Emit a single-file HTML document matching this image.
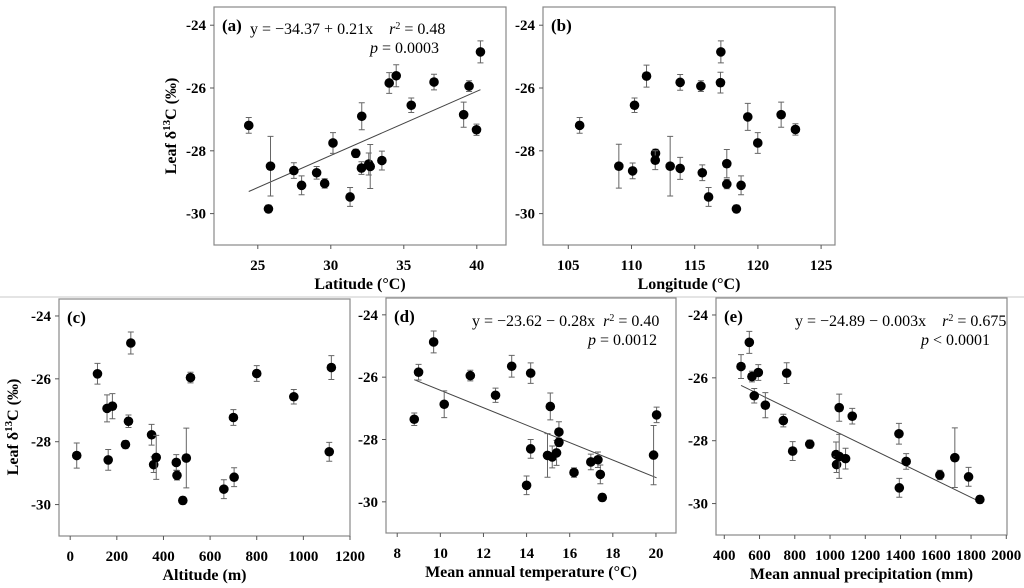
<!DOCTYPE html>
<html><head><meta charset="utf-8"><style>
html,body{margin:0;padding:0;background:#fff;}
svg{display:block;font-family:"Liberation Serif",serif;}
</style></head><body>
<svg id="fig" width="1024" height="588" viewBox="0 0 1024 588" xmlns="http://www.w3.org/2000/svg">
<line x1="0" y1="297" x2="1024" y2="297" stroke="#c8c8c8" stroke-width="1"/>
</svg>
<script>
// ---- data (panel a: latitude) ----
const latX=[24.38,25.73,25.87,27.47,28.0,29.03,29.58,30.15,31.32,31.71,32.12,32.1,32.6,32.7,33.5,34.0,34.48,35.51,37.07,39.1,39.47,39.98,40.25];
const latY=[-27.19,-29.85,-28.49,-28.63,-29.10,-28.70,-29.04,-27.75,-29.47,-28.08,-26.90,-28.55,-28.42,-28.50,-28.31,-25.84,-25.61,-26.55,-25.81,-26.85,-25.94,-27.33,-24.85];
const latE=[0.25,0.12,0.95,0.25,0.3,0.2,0.15,0.33,0.3,0.13,0.43,0.2,0.35,0.7,0.3,0.33,0.35,0.23,0.25,0.4,0.17,0.18,0.35];
// ---- panel b: longitude ----
const lonX=[105.9,109.0,110.09,110.24,111.19,111.9,111.88,113.06,113.85,113.85,115.49,115.6,116.1,117.07,117.04,117.54,117.54,118.3,118.67,119.2,119.99,121.84,122.97];
const lonY=[-27.19,-28.49,-28.64,-26.55,-25.62,-28.08,-28.3,-28.49,-25.82,-28.56,-25.94,-28.70,-29.47,-24.85,-25.83,-28.41,-29.06,-29.85,-29.10,-26.92,-27.75,-26.85,-27.32];
const lonE=[0.25,0.7,0.25,0.23,0.35,0.13,0.3,0.95,0.25,0.35,0.17,0.25,0.3,0.35,0.33,0.45,0.15,0.12,0.3,0.43,0.33,0.4,0.18];
// ---- panel c: altitude ----
const altX=[28,117,158,181,163,237,250,260,349,358,369,455,458,483,498,516,659,700,703,800,959,1111,1120];
const altY=[-28.44,-25.84,-26.94,-26.87,-28.58,-28.09,-27.35,-24.86,-27.78,-28.73,-28.5,-28.66,-29.07,-29.87,-28.52,-25.96,-29.51,-27.23,-29.13,-25.83,-26.57,-28.32,-25.64];
const altE=[0.4,0.33,0.43,0.4,0.33,0.13,0.2,0.35,0.33,0.25,0.7,0.25,0.15,0.12,0.95,0.17,0.3,0.25,0.3,0.25,0.23,0.3,0.38];
// ---- panel d: temperature ----
const matX=[8.79,8.99,9.69,10.18,11.39,12.56,13.31,14.19,14.19,14.0,14.97,15.19,15.1,15.39,15.5,15.5,16.2,16.98,17.31,17.42,17.51,19.89,20.03];
const matY=[-27.35,-25.84,-24.87,-26.87,-25.95,-26.58,-25.65,-25.87,-28.30,-29.47,-28.51,-28.56,-26.94,-28.43,-27.76,-28.09,-29.06,-28.72,-28.65,-29.12,-29.86,-28.50,-27.21];
const matE=[0.2,0.25,0.35,0.43,0.17,0.23,0.35,0.33,0.3,0.3,0.7,0.35,0.43,0.4,0.33,0.13,0.15,0.25,0.25,0.3,0.12,0.95,0.25];
// ---- panel e: precipitation ----
const mapX=[495,542,557,593,570,633,735,754,788,885,1034,1037,1052,1052,1088,1126,1391,1393,1432,1623,1708,1786,1850];
const mapY=[-25.64,-24.87,-25.96,-25.83,-26.57,-26.87,-27.36,-25.85,-28.33,-28.11,-28.44,-28.76,-26.95,-28.50,-28.57,-27.22,-27.78,-29.50,-28.66,-29.09,-28.54,-29.15,-29.87];
const mapE=[0.38,0.35,0.17,0.25,0.23,0.4,0.2,0.33,0.3,0.13,0.4,0.25,0.43,0.7,0.33,0.25,0.33,0.3,0.25,0.15,0.95,0.3,0.12];
// regression lines [intercept, slope]
const fitA=[-34.28,0.2044];
const fitD=[-23.62,-0.28];
const fitE=[-24.89,-0.00273];
const yTicks=[-24,-26,-28,-30];
const ticksA=[25,30,35,40];
const ticksB=[105,110,115,120,125];
const ticksC=[0,200,400,600,800,1000,1200];
const ticksD=[8,10,12,14,16,18,20];
const ticksE=[400,600,800,1000,1200,1400,1600,1800,2000];

const NS='http://www.w3.org/2000/svg';
const svg=document.getElementById('fig');
function mk(tag,attrs,parent,text){const e=document.createElementNS(NS,tag);for(const k in attrs)e.setAttribute(k,attrs[k]);if(text!==undefined)e.textContent=text;(parent||svg).appendChild(e);return e;}

function panel(o){
  const g=mk('g',{});
  
  
  const sx=v=>o.L+(v-o.x0)/(o.x1-o.x0)*(o.R-o.L);
  const sy=v=>o.T+(o.y1-v)/(o.y1-o.y0)*(o.B-o.T);
  const box=mk('rect',{x:o.L,y:o.T,width:o.R-o.L,height:o.B-o.T,fill:'none',stroke:'#888','stroke-width':1.2},g);
  
  
  yTicks.forEach(t=>{
    mk('line',{x1:o.L-4,x2:o.L,y1:sy(t),y2:sy(t),stroke:'#555'},g);
    const tl=mk('text',{x:o.L-8,y:sy(t)+5,'text-anchor':'end','font-size':15,'font-weight':'bold'},g,String(t));
    
    
  });
  o.xt.forEach(t=>{
    mk('line',{x1:sx(t),x2:sx(t),y1:o.B,y2:o.B+4,stroke:'#555'},g);
    const tl=mk('text',{x:sx(t),y:o.B+25,'text-anchor':'middle','font-size':15,'font-weight':'bold'},g,String(t));
    
    
  });
  const xt=mk('text',{x:(o.L+o.R)/2,y:o.B+44,'text-anchor':'middle','font-size':16,'font-weight':'bold'},g,o.xtitle);
  
  
  const pl=mk('text',{x:o.L+8,y:o.T+24,'font-size':17,'font-weight':'bold'},g,'('+o.id+')');
  
  
  if(o.fit){
    const xs=o.X, xa=Math.min(...xs), xb=Math.max(...xs);
    const ln=mk('line',{x1:sx(xa),y1:sy(o.fit[0]+o.fit[1]*xa),x2:sx(xb),y2:sy(o.fit[0]+o.fit[1]*xb),stroke:'#444','stroke-width':1},g);
    
    
  }
  o.X.forEach((x,i)=>{
    const cx=sx(x),cy=sy(o.Y[i]),e=o.E[i];
    const eb=mk('path',{d:`M${cx},${sy(o.Y[i]+e)}V${sy(o.Y[i]-e)}M${cx-3},${sy(o.Y[i]+e)}H${cx+3}M${cx-3},${sy(o.Y[i]-e)}H${cx+3}`,stroke:'#666',fill:'none','stroke-width':1},g);
    
    
    const c=mk('circle',{cx:cx,cy:cy,r:4.8,fill:'#000'},g);
    
    
  });
  return g;
}
function ytitle(x,y){
  const t=mk('text',{transform:`translate(${x},${y}) rotate(-90)`,'text-anchor':'middle','font-size':16,'font-weight':'bold'});
  
  
  mk('tspan',{},t,'Leaf δ');
  mk('tspan',{'baseline-shift':'super','font-size':11},t,'13');
  mk('tspan',{},t,'C (‰)');
}
function eq(x,y,parts,anchor){
  const t=mk('text',{x:x,y:y,'font-size':16,'text-anchor':anchor||'start','xml:space':'preserve'});
  
  
  parts.forEach(p=>{mk('tspan',p[1]||{},t,p[0]);});
}
const Y0=-31,Y1=-23.42;
panel({id:'a',L:214,R:506,T:7,B:245,x0:22,x1:42,y0:Y0,y1:Y1,X:latX,Y:latY,E:latE,xt:ticksA,xtitle:'Latitude (°C)',fit:fitA});
panel({id:'b',L:543,R:835,T:7,B:245,x0:103,x1:126.1,y0:Y0,y1:Y1,X:lonX,Y:lonY,E:lonE,xt:ticksB,xtitle:'Longitude (°C)'});
panel({id:'c',L:59,R:350,T:299,B:536,x0:-48,x1:1200,y0:Y0,y1:-23.46,X:altX,Y:altY,E:altE,xt:ticksC,xtitle:'Altitude (m)'});
panel({id:'d',L:386,R:676,T:298,B:533,x0:7.48,x1:20.93,y0:Y0,y1:-23.46,X:matX,Y:matY,E:matE,xt:ticksD,xtitle:'Mean annual temperature (°C)',fit:fitD});
panel({id:'e',L:716,R:1007,T:298,B:535,x0:353,x1:2004,y0:Y0,y1:-23.46,X:mapX,Y:mapY,E:mapE,xt:ticksE,xtitle:'Mean annual precipitation (mm)',fit:fitE});
ytitle(176,126);
ytitle(18,427);
eq(250,34,[['y = −34.37 + 0.21x\u2003'],['r',{'font-style':'italic'}],['2',{'baseline-shift':'super','font-size':10}],[' = 0.48']]);
eq(439,53,[['p',{'font-style':'italic'}],[' = 0.0003']],'end');
eq(472,326,[['y = −23.62 − 0.28x\u2002'],['r',{'font-style':'italic'}],['2',{'baseline-shift':'super','font-size':10}],[' = 0.40']]);
eq(657,345,[['p',{'font-style':'italic'}],[' = 0.0012']],'end');
eq(795,326,[['y = −24.89 − 0.003x\u2003'],['r',{'font-style':'italic'}],['2',{'baseline-shift':'super','font-size':10}],[' = 0.675']]);
eq(990,345,[['p',{'font-style':'italic'}],[' < 0.0001']],'end');
</script>
</body></html>
